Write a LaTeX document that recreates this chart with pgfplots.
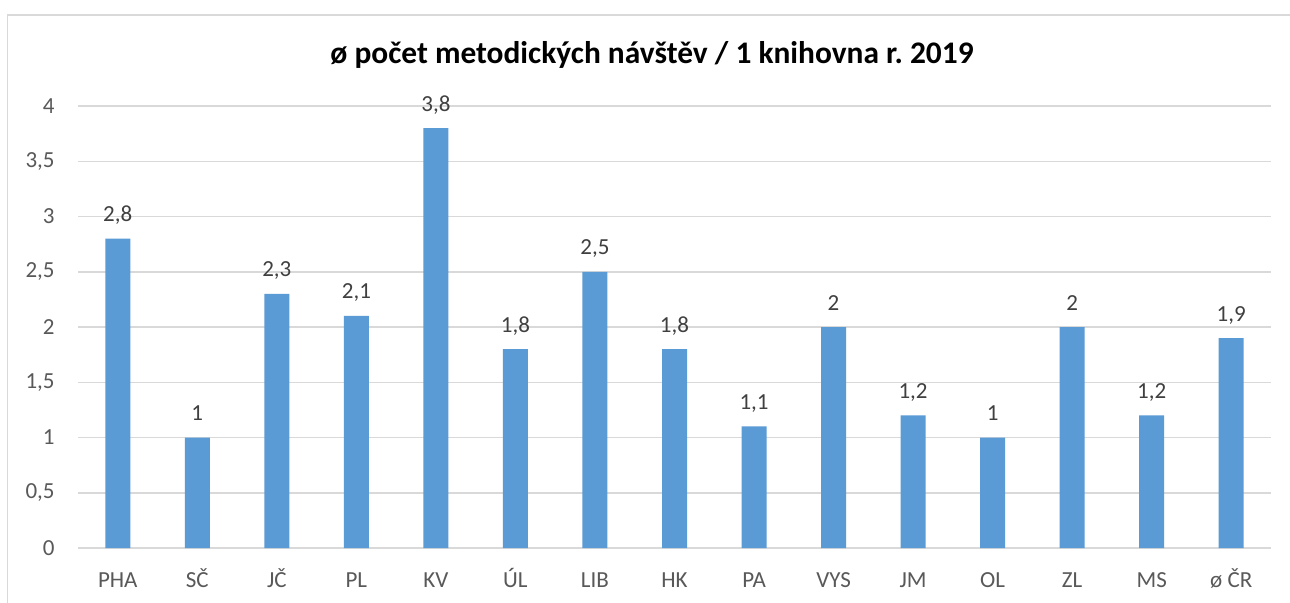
\documentclass[border=0pt]{standalone}
\usepackage{fontspec}
\setmainfont{Carlito}
\usepackage{pgfplots}
\pgfplotsset{compat=1.18}
\definecolor{barblue}{HTML}{5B9BD5}
\definecolor{gridgray}{HTML}{D9D9D9}
\definecolor{ticklab}{HTML}{595959}
\definecolor{vallab}{HTML}{404040}
\begin{document}
\begin{tikzpicture}[x=1pt,y=1pt]
\clip (0,0) rectangle (645,301);
\fill[white] (0,0) rectangle (645,301);
\draw[gridgray, line width=0.75pt] (3.75,-20) rectangle (700,293.5);
\node[font=\fontsize{15.7}{18}\selectfont\bfseries, anchor=base, inner sep=0pt] at (326,269.5) {ø počet metodických návštěv / 1 knihovna r.~2019};
\begin{axis}[
  at={(39pt,27pt)}, anchor=south west,
  width=596.5pt, height=221pt, scale only axis,
  xmin=-0.5, xmax=14.5, ymin=0, ymax=4,
  ytick={0,0.5,1,1.5,2,2.5,3,3.5,4},
  xtick={0,1,2,3,4,5,6,7,8,9,10,11,12,13,14},
  xticklabels={PHA,SČ,JČ,PL,KV,ÚL,LIB,HK,PA,VYS,JM,OL,ZL,MS,ø ČR},
  ymajorgrids, grid style={gridgray, line width=0.75pt},
  axis x line*=bottom, axis y line*=left,
  y axis line style={draw=none},
  x axis line style={gridgray, line width=0.75pt, -},
  major tick length=0pt,
  tick style={draw=none},
  /pgf/number format/assume math mode=true,
  /pgf/number format/use comma,
  yticklabel style={font=\fontsize{11.5}{13}\selectfont, color=ticklab, anchor=east, xshift=-11.5pt, inner sep=0pt},
  xticklabel style={font=\fontsize{11.5}{13}\selectfont, color=ticklab, anchor=base, yshift=-19.5pt, inner sep=0pt},
  clip=false,
]
\addplot[ybar, bar width=12.5pt, fill=barblue, draw=none,
  nodes near coords,
  nodes near coords style={font=\fontsize{11.5}{13}\selectfont, color=vallab, anchor=base, yshift=8.5pt, inner sep=0pt, /pgf/number format/use comma, /pgf/number format/assume math mode=true},
] coordinates {
(0,2.8) (1,1) (2,2.3) (3,2.1) (4,3.8) (5,1.8) (6,2.5) (7,1.8) (8,1.1) (9,2) (10,1.2) (11,1) (12,2) (13,1.2) (14,1.9)
};
\end{axis}
\end{tikzpicture}
\end{document}
